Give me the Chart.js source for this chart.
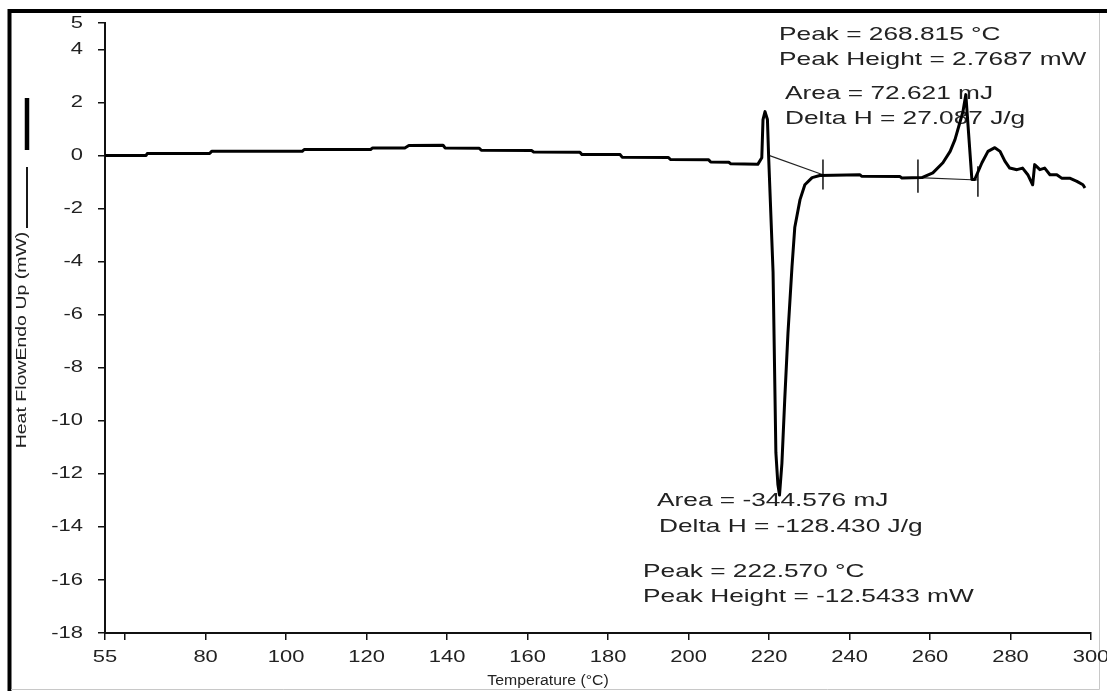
<!DOCTYPE html>
<html lang="en">
<head>
<meta charset="UTF-8">
<title>DSC - Heat Flow vs Temperature</title>
<style>
  html, body { margin: 0; padding: 0; background: #fff; }
  #wrap { width: 1107px; height: 691px; }
</style>
</head>
<body>
<div id="wrap"><canvas id="dsc" width="1107" height="691"></canvas></div>
<script src="https://cdn.jsdelivr.net/npm/chart.js"></script>
<script>
// temperature (°C) and heat flow (mW)
const temperature = [
  55, 65.2, 65.5, 81, 81.5, 104, 104.5, 121, 121.5, 129.5,
  130.5, 139, 139.5, 148, 148.5, 161, 161.5, 173, 173.5, 183,
  183.5, 195, 195.5, 205, 205.5, 210, 210.5, 217.2, 218.2, 218.5,
  219.0, 219.6, 219.9, 221.0, 221.7, 222.2, 222.6, 223.2, 223.9, 224.7,
  225.7, 226.4, 227.7, 228.9, 230.7, 232.6, 242.6, 243, 252.5, 253,
  258, 260.7, 263.2, 265, 266.2, 267.4, 268.2, 268.9, 270.4, 271.1,
  272.9, 274.4, 276.1, 277.4, 278.6, 279.8, 281.6, 283, 284.3, 285.5,
  286, 287.3, 288.5, 289.8, 291.5, 292.7, 294.7, 296.5, 298, 298.5
];
const heatFlow = [
  0.00, 0.00, 0.08, 0.08, 0.16, 0.16, 0.23, 0.23, 0.29, 0.29,
  0.38, 0.39, 0.29, 0.28, 0.20, 0.19, 0.14, 0.13, 0.04, 0.04,
  -0.06, -0.07, -0.15, -0.16, -0.24, -0.25, -0.31, -0.33, -0.08, 1.36,
  1.66, 1.36, -0.04, -4.4, -11.2, -12.4, -12.8, -11.6, -9.2, -6.7,
  -4.2, -2.7, -1.66, -1.1, -0.83, -0.75, -0.72, -0.78, -0.79, -0.84,
  -0.83, -0.65, -0.27, 0.16, 0.6, 1.24, 1.67, 2.3, -0.9, -0.9,
  -0.27, 0.16, 0.30, 0.16, -0.21, -0.47, -0.53, -0.47, -0.72, -1.1,
  -0.34, -0.53, -0.47, -0.72, -0.72, -0.85, -0.85, -0.97, -1.1, -1.22
];

// integration baselines (start / end of each peak)
const exoBaseT = [219.8, 233.4];
const exoBaseH = [0.02, -0.72];
const endoBaseT = [257.0, 271.9];
const endoBaseH = [-0.83, -0.92];

// limit markers on the curve
const markerT = [233.4, 257.0, 271.9];
const markerTop = [-0.15, -0.15, -0.4];
const markerBottom = [-1.28, -1.4, -1.55];

// axes
const xTickValues = [55, 60, 80, 100, 120, 140, 160, 180, 200, 220, 240, 260, 280, 300];
const xTickLabels = ['55', '', '80', '100', '120', '140', '160', '180', '200', '220', '240', '260', '280', '300'];
const yTickValues = [-18, -16, -14, -12, -10, -8, -6, -4, -2, 0, 2, 4, 5];
const yTickLabels = ['-18', '-16', '-14', '-12', '-10', '-8', '-6', '-4', '-2', '0', '2', '4', '5'];

const annotationText = [
  'Peak = 268.815 °C',
  'Peak Height = 2.7687 mW',
  'Area = 72.621 mJ',
  'Delta H = 27.087 J/g',
  'Area = -344.576 mJ',
  'Delta H = -128.430 J/g',
  'Peak = 222.570 °C',
  'Peak Height = -12.5433 mW'
];
const xTitle = 'Temperature (°C)';
const yTitle = 'Heat FlowEndo Up (mW)';

const textFont = '"Liberation Sans", Arial, sans-serif';

function pairs(xs, ys) {
  return xs.map((x, i) => ({ x: x, y: ys[i] }));
}

function stretchText(ctx, txt, x, y, size, sx, align, angle) {
  ctx.save();
  ctx.translate(x, y);
  if (angle) ctx.rotate(angle);
  ctx.scale(sx, 1);
  ctx.font = size + 'px ' + textFont;
  ctx.textAlign = align || 'left';
  ctx.textBaseline = 'middle';
  ctx.fillStyle = '#222';
  ctx.fillText(txt, 0, 0);
  ctx.restore();
}

const markerSets = markerT.map((t, i) => ({
  data: [{ x: t, y: markerTop[i] }, { x: t, y: markerBottom[i] }],
  borderColor: '#111', borderWidth: 1.5, showLine: true, pointRadius: 0
}));

// the notes sit under the curve, the frame and labels on top
const notesPlugin = {
  id: 'notes',
  beforeDatasetsDraw(chart) {
    const ctx = chart.ctx;
    const spots = [[779, 35], [779, 60], [785, 94], [785, 119], [657, 501], [659, 527], [643, 572], [643, 597]];
    annotationText.forEach((t, i) => {
      stretchText(ctx, t, spots[i][0], spots[i][1], 18.5, 1.42, 'left');
    });
  },
  afterDraw(chart) {
    const ctx = chart.ctx;
    const xs = chart.scales.x, ys = chart.scales.y;

    // frame
    ctx.save();
    ctx.strokeStyle = '#000';
    ctx.lineWidth = 4;
    ctx.beginPath();
    ctx.moveTo(9.5, 691);
    ctx.lineTo(9.5, 11);
    ctx.lineTo(1107, 11);
    ctx.stroke();
    ctx.strokeStyle = '#c8c8c8';
    ctx.lineWidth = 1;
    ctx.beginPath();
    ctx.moveTo(1099.5, 13);
    ctx.lineTo(1099.5, 689.5);
    ctx.lineTo(11, 689.5);
    ctx.stroke();
    ctx.restore();

    // tick labels
    xs.ticks.forEach((t, i) => {
      stretchText(ctx, xTickLabels[i], xs.getPixelForValue(t.value), 657, 16.5, 1.33, 'center');
    });
    ys.ticks.forEach((t, i) => {
      stretchText(ctx, yTickLabels[i], 83, ys.getPixelForValue(t.value), 16.5, 1.33, 'right');
    });

    // axis titles
    stretchText(ctx, xTitle, 548, 681, 14, 1.13, 'center');
    stretchText(ctx, yTitle, 22, 340, 15, 1.3, 'center', -Math.PI / 2);

    // legend glyphs next to the y title
    ctx.save();
    ctx.strokeStyle = '#000';
    ctx.lineWidth = 4.5;
    ctx.beginPath();
    ctx.moveTo(27, 98);
    ctx.lineTo(27, 150);
    ctx.stroke();
    ctx.lineWidth = 1.8;
    ctx.beginPath();
    ctx.moveTo(27, 167);
    ctx.lineTo(27, 228);
    ctx.stroke();
    ctx.restore();
  }
};

new Chart(document.getElementById('dsc'), {
  type: 'scatter',
  data: {
    datasets: [
      {
        data: pairs(temperature, heatFlow),
        borderColor: '#000', borderWidth: 3, showLine: true, pointRadius: 0,
        tension: 0, borderJoinStyle: 'round'
      },
      {
        data: pairs(exoBaseT, exoBaseH),
        borderColor: '#222', borderWidth: 1.2, showLine: true, pointRadius: 0
      },
      {
        data: pairs(endoBaseT, endoBaseH),
        borderColor: '#222', borderWidth: 1.2, showLine: true, pointRadius: 0
      }
    ].concat(markerSets)
  },
  options: {
    responsive: false,
    animation: false,
    devicePixelRatio: 1,
    events: [],
    layout: { padding: { top: 23, right: 16, left: 0, bottom: 0 } },
    plugins: { legend: { display: false }, tooltip: { enabled: false } },
    scales: {
      x: {
        type: 'linear', min: 55, max: 300,
        afterBuildTicks: s => { s.ticks = xTickValues.map(v => ({ value: v })); },
        afterFit: s => { s.height = 58; },
        ticks: { display: false },
        grid: { drawOnChartArea: false, drawTicks: true, tickLength: 7, color: '#111', lineWidth: 1.5 },
        border: { display: true, color: '#111', width: 2 }
      },
      y: {
        type: 'linear', min: -18, max: 5,
        afterBuildTicks: s => { s.ticks = yTickValues.map(v => ({ value: v })); },
        afterFit: s => { s.width = 105; },
        ticks: { display: false },
        grid: { drawOnChartArea: false, drawTicks: true, tickLength: 7, color: '#111', lineWidth: 1.5 },
        border: { display: true, color: '#111', width: 2 }
      }
    }
  },
  plugins: [notesPlugin]
});
</script>
</body>
</html>
